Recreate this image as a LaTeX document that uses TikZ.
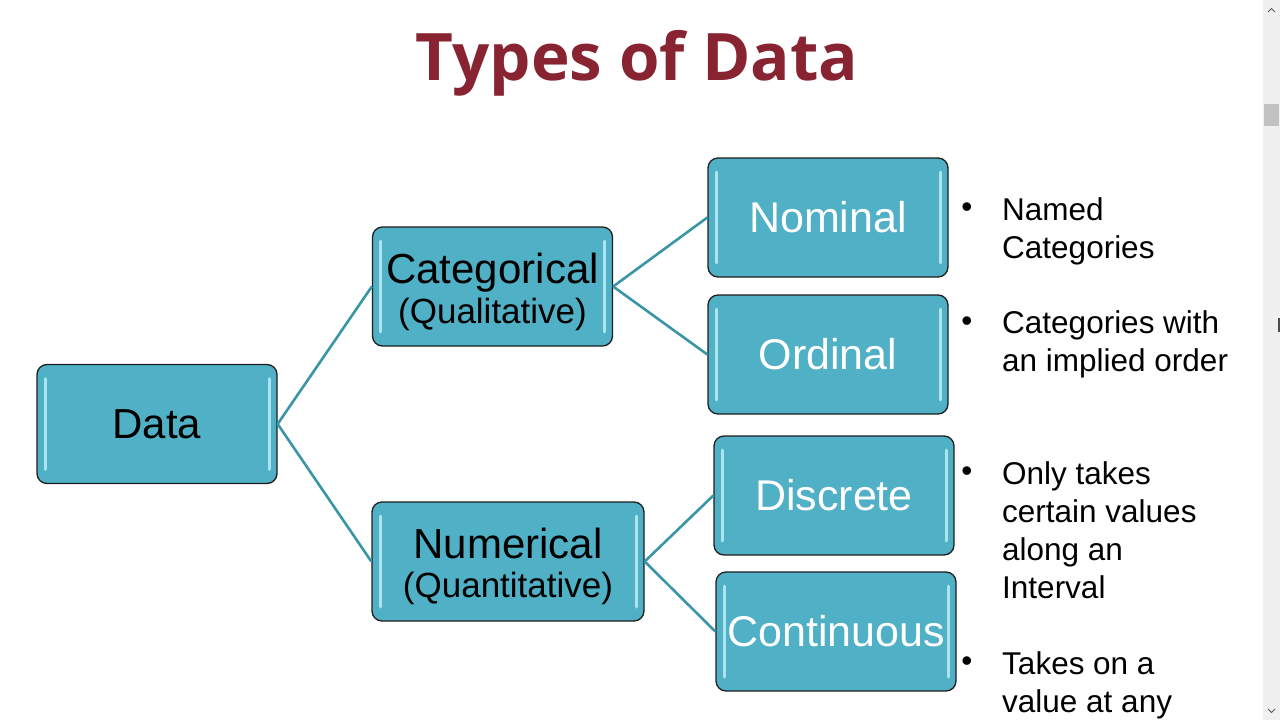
\documentclass[tikz,border=0pt]{standalone}
\usepackage{fontspec}
\setmainfont{Liberation Sans}
\newfontfamily\titlefont{Open Sans}
\definecolor{titlered}{RGB}{136,36,50}
\definecolor{boxfill}{RGB}{79,176,198}
\definecolor{boxedge}{RGB}{30,30,30}
\definecolor{stripe}{RGB}{170,228,238}
\definecolor{link}{RGB}{58,150,166}
\definecolor{sbar}{RGB}{240,240,240}
\definecolor{sthumb}{RGB}{194,194,194}
\tikzset{
  box/.style={draw=boxedge, line width=1.3pt, fill=boxfill, rounded corners=10pt,
    minimum width=240pt, minimum height=119pt, inner sep=0pt, align=center,
    path picture={
      \draw[stripe, line width=3pt, line cap=round]
        ([xshift=8pt,yshift=-14pt]path picture bounding box.north west) --
        ([xshift=8pt,yshift=14pt]path picture bounding box.south west);
      \draw[stripe, line width=3pt, line cap=round]
        ([xshift=-8pt,yshift=-14pt]path picture bounding box.north east) --
        ([xshift=-8pt,yshift=14pt]path picture bounding box.south east);
    }},
  darktext/.style={text=black, font=\fontsize{42}{34}\selectfont},
  lighttext/.style={text=white, font=\fontsize{43}{34}\selectfont},
  boxlabel/.style={darktext, align=center, inner sep=0pt},
  link/.style={draw=link, line width=2.6pt},
  note/.style={anchor=base west, inner sep=0pt, font=\fontsize{31.5}{38}\selectfont},
  bullet/.style={anchor=center, inner sep=0pt, font=\fontsize{31.5}{38}\selectfont},
  title/.style={anchor=base, inner sep=0pt, text=titlered, font=\titlefont\bfseries\fontsize{65.5}{80}\selectfont},
}
\begin{document}
\begin{tikzpicture}[x=1pt,y=-1pt]
\useasboundingbox (0,0) rectangle (1280,720);
\fill[white] (0,0) rectangle (1280,720);

% title
\node[title] (title) at (637,80) {Types of Data};

% boxes
\node[box, darktext] (data) at (157,424) {Data};
\node[box] (cat) at (492.5,286.5) {};
\node[boxlabel] (catlabel) at ([yshift=-5pt]cat.center) {Categorical\\[5pt]{\fontsize{35}{34}\selectfont (Qualitative)}};
\node[box, minimum width=272pt] (num) at (508,561.5) {};
\node[boxlabel] (numlabel) at ([yshift=-5pt]num.center) {Numerical\\[5pt]{\fontsize{35}{34}\selectfont (Quantitative)}};
\node[box, lighttext] (nom) at (828,217.5) {Nominal};
\node[box, lighttext] (ord) at (828,354.5) {Ordinal};
\node[box, lighttext] (dis) at (834,495.5) {Discrete};
\node[box, lighttext] (con) at (836,631.5) {Continuous};

% connectors
\draw[link] (data.east) -- (cat.west);
\draw[link] (data.east) -- (num.west);
\draw[link] (cat.east) -- (nom.west);
\draw[link] (cat.east) -- (ord.west);
\draw[link] (num.east) -- (dis.west);
\draw[link] (num.east) -- (con.west);

% bullet notes
\node[bullet] (b1) at (967,210) {•};
\node[note] (n1a) at (1002,220) {Named};
\node[note] (n1b) at (1002,258) {Categories};
\node[bullet] (b2) at (967,324) {•};
\node[note] (n2a) at (1002,333) {Categories with};
\node[note] (n2b) at (1002,371) {an implied order};
\node[bullet] (b3) at (967,474) {•};
\node[note] (n3a) at (1002,484) {Only takes};
\node[note] (n3b) at (1002,522) {certain values};
\node[note] (n3c) at (1002,560) {along an};
\node[note] (n3d) at (1002,598) {Interval};
\node[bullet] (b4) at (967,664) {•};
\node[note] (n4a) at (1002,674) {Takes on a};
\node[note] (n4b) at (1002,712) {value at any};

% scrollbar
\fill[sbar] (1263,0) rectangle (1280,720);
\fill[sthumb] (1264,104) rectangle (1279,126);
\draw[gray!70!black, line width=1pt] (1268,12) -- (1271.5,8.5) -- (1275,12);
\draw[gray!70!black, line width=1pt] (1268,709) -- (1271.5,712.5) -- (1275,709);
\fill[gray!60!black] (1278,318) rectangle (1280,332);
\end{tikzpicture}
\end{document}
